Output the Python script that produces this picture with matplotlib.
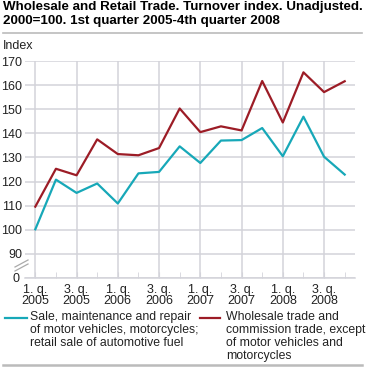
import matplotlib
matplotlib.use("Agg")
import matplotlib.pyplot as plt
from matplotlib.lines import Line2D

# quarters 1. q. 2005 .. 4. q. 2008
quarters = list(range(16))
tick_labels = ["1. q.\n2005", "3. q.\n2005", "1. q.\n2006", "3. q.\n2006",
               "1. q.\n2007", "3. q.\n2007", "1. q.\n2008", "3. q.\n2008"]
motor = [100.2, 120.8, 115.3, 119.2, 110.9, 123.4, 124.0, 134.6,
         127.7, 137.0, 137.2, 142.2, 130.5, 146.9, 130.3, 122.9]
wholesale = [109.6, 125.3, 122.6, 137.5, 131.4, 130.9, 133.9, 150.3,
             140.5, 142.9, 141.2, 161.7, 144.5, 165.3, 157.1, 161.6]
y_ticks = [80, 90, 100, 110, 120, 130, 140, 150, 160, 170]
y_labels = ["0", "90", "100", "110", "120", "130", "140", "150", "160", "170"]

cyan = "#17a8b8"
red = "#9c1c26"
grid = "#d3d3da"

plt.rcParams["font.family"] = ["Liberation Sans", "DejaVu Sans"]

fig = plt.figure(figsize=(3.7, 3.7), dpi=100)
ax = fig.add_axes([25 / 370, 1 - 278 / 370, 330 / 370, 217 / 370])

ax.plot(quarters, motor, color=cyan, lw=1.6, zorder=3)
ax.plot(quarters, wholesale, color=red, lw=1.6, zorder=3)

ax.set_xlim(-0.5, 15.5)
ax.set_ylim(80, 170)
ax.set_yticks(y_ticks)
ax.set_yticklabels(y_labels, fontsize=9, color="#222222")
ax.get_yticklabels()[0].set_x(-0.008)
ax.set_xticks(quarters[::2])
ax.set_xticklabels(tick_labels, fontsize=9, color="#222222", linespacing=0.95)
ax.set_xticks(quarters, minor=True)
ax.tick_params(axis="y", length=0, pad=2)
ax.tick_params(axis="x", which="both", direction="in", length=4, color=grid, pad=4)
ax.grid(True, which="major", color=grid, lw=1.1, zorder=0)
for s in ["top", "right", "left"]:
    ax.spines[s].set_visible(False)
ax.spines["bottom"].set_color(grid)
ax.spines["bottom"].set_linewidth(1.1)

# axis break marks
for dy in (0, 4):
    fig.add_artist(Line2D([15 / 370, 28 / 370],
                          [1 - (271 - dy) / 370, 1 - (264 - dy) / 370],
                          color="#aaaaaa", lw=0.9))

fig.text(3 / 370, 1 - 1 / 370, "Wholesale and Retail Trade. Turnover index. Unadjusted.\n"
         "2000=100. 1st quarter 2005-4th quarter 2008",
         fontsize=9.6, fontweight="bold", va="top", ha="left", linespacing=1.22)
fig.add_artist(Line2D([3 / 370, 362 / 370], [1 - 33 / 370] * 2, color="#bbbbbb", lw=1.2))
fig.add_artist(Line2D([3 / 370, 362 / 370], [1 - 365 / 370] * 2, color="#bbbbbb", lw=1.8))
fig.text(3 / 370, 1 - 40 / 370, "Index", fontsize=9, va="top", ha="left", color="#222222")

# legend
fig.add_artist(Line2D([5 / 370, 27 / 370], [1 - 318 / 370] * 2, color=cyan, lw=1.6))
fig.text(30 / 370, 1 - 311 / 370,
         "Sale, maintenance and repair\nof motor vehicles, motorcycles;\nretail sale of automotive fuel",
         fontsize=8.8, va="top", ha="left", linespacing=1.12, color="#222222")
fig.add_artist(Line2D([200 / 370, 220 / 370], [1 - 318 / 370] * 2, color=red, lw=1.6))
fig.text(226 / 370, 1 - 311 / 370,
         "Wholesale trade and\ncommission trade, except\nof motor vehicles and\nmotorcycles",
         fontsize=8.8, va="top", ha="left", linespacing=1.12, color="#222222")

fig.savefig("out.png", dpi=100)
